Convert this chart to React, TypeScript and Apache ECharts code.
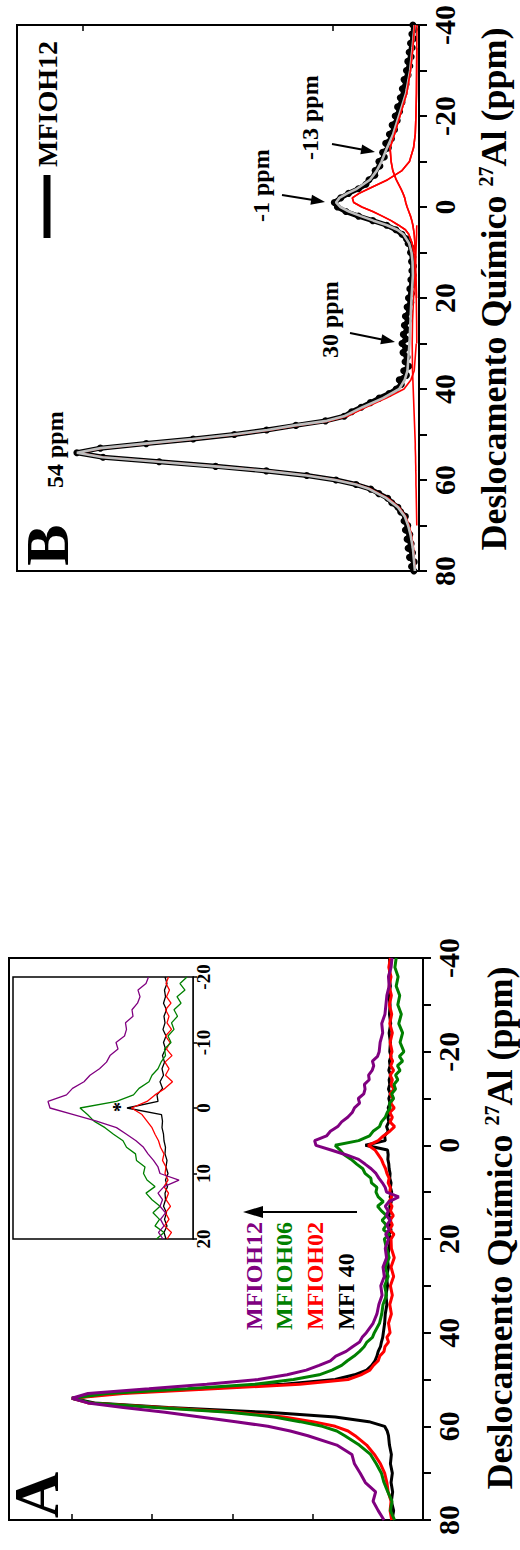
import React, { useEffect, useRef } from 'react';
import * as echarts from 'echarts';

const SERIF = '"Liberation Serif", "Times New Roman", serif';

// ---------- Panel B (MFIOH12, experimental + fit) ----------
const PPM_B = [
  80, 79, 78, 77, 76, 75, 74, 73, 72, 71,
  70, 69, 68, 67, 66, 65, 64, 63, 62, 61,
  60, 59, 58, 57, 56, 55, 54, 53, 52, 51,
  50, 49, 48, 47, 46, 45, 44, 43, 42, 41,
  40, 39, 38, 37, 36, 35, 34, 33, 32, 31,
  30, 29, 28, 27, 26, 25, 24, 23, 22, 21,
  20, 19, 18, 17, 16, 15, 14, 13, 12, 11,
  10, 9, 8, 7, 6, 5, 4, 3, 2, 1,
  0, -1, -2, -3, -4, -5, -6, -7, -8, -9,
  -10, -11, -12, -13, -14, -15, -16, -17, -18, -19,
  -20, -21, -22, -23, -24, -25, -26, -27, -28, -29,
  -30, -31, -32, -33, -34, -35, -36, -37, -38, -39,
  -40,
];
const B_EXP = [
  0.9, 1.6, 0.8, 2.2, 1.3, 2.6, 1.7, 2.9, 2.1, 3.4,
  2.7, 3.8, 3.4, 4.8, 5.6, 7.4, 8.6, 11.2, 13.6, 17.9,
  23.8, 32.4, 44.3, 59.2, 75.8, 92.3, 100, 93.1, 79.6, 65.8,
  53.7, 44.2, 35.6, 26.9, 21.4, 19.2, 16.4, 13.7, 11.1, 8.2,
  6.1, 4.6, 5.2, 3.1, 3.9, 2.4, 3.5, 2.9, 4.1, 3.3,
  4.4, 3.2, 4.0, 2.9, 3.7, 2.6, 3.4, 2.2, 2.9, 1.8,
  2.5, 1.6, 2.1, 1.3, 1.8, 1.1, 1.5, 1.0, 1.6, 1.2,
  1.9, 1.6, 2.6, 3.1, 4.4, 6.2, 8.9, 13.0, 17.2, 20.9,
  23.4, 24.3, 22.4, 20.1, 17.2, 15.0, 14.1, 12.4, 12.3, 10.9,
  11.2, 9.6, 10.1, 8.4, 9.2, 7.5, 8.1, 6.6, 7.3, 5.8,
  6.4, 5.1, 5.7, 4.4, 4.9, 3.8, 4.3, 3.2, 3.8, 2.6,
  3.1, 2.1, 2.7, 1.7, 2.3, 1.4, 1.9, 1.0, 1.5, 0.8,
  1.2,
];

const PPM_FIT = [
  80, 75, 72, 70, 68, 66, 64, 62,
  61, 60, 59, 58, 57, 56, 55, 54, 53, 52, 51, 50, 49, 48, 47, 46,
  44, 42, 40, 38, 36,
  30, 25, 20, 15, 12, 10, 8, 6, 5, 4, 3, 2, 1, 0,
  -1, -2, -3, -4, -6, -8, -10, -13, -16, -20, -25, -30, -35, -40,
];
const B_FIT = [
  0.6, 1.2, 1.9, 2.6, 3.6, 5.6, 9.0, 14.0,
  18.0, 24.0, 32.5, 44.5, 59.5, 76.0, 92.5, 100, 93, 80, 66, 54, 44, 36, 26.5, 21.5,
  16, 10, 5.2, 3.6, 2.8,
  2.2, 1.9, 1.6, 1.2, 1.3, 1.6, 2.3, 4.0, 5.8, 8.8, 12.8, 16.5, 20.0, 22.5,
  23.8, 22.8, 20.5, 17.7, 13.8, 11.8, 10.4, 8.8, 7.0, 5.3, 3.2, 2.0, 1.3, 0.7,
];
const B_C54 = [
  0.5, 1.0, 1.6, 2.3, 3.3, 5.2, 8.5, 13.5,
  17.5, 23.5, 32, 44, 59, 75.5, 92, 99.5, 92.5, 79, 65, 53, 43, 35, 25.5, 20.5,
  15, 9, 3.8, 1.8, 0.8,
  0.2, 0.1, 0, 0, 0, 0, 0, 0, 0, 0, 0, 0, 0, 0,
  0, 0, 0, 0, 0, 0, 0, 0, 0, 0, 0, 0, 0, 0,
];
const B_C30 = [
  0, 0, 0, 0.05, 0.1, 0.15, 0.2, 0.25,
  0.3, 0.3, 0.3, 0.35, 0.35, 0.4, 0.4, 0.45, 0.5, 0.5, 0.55, 0.6, 0.65, 0.7, 0.75, 0.8,
  0.9, 1.0, 1.1, 1.2, 1.3,
  1.4, 1.3, 1.0, 0.6, 0.4, 0.3, 0.2, 0.1, 0.1, 0.05, 0, 0, 0, 0,
  0, 0, 0, 0, 0, 0, 0, 0, 0, 0, 0, 0, 0, 0,
];
const B_CM1 = [
  0, 0, 0, 0, 0, 0, 0, 0,
  0, 0, 0, 0, 0, 0, 0, 0, 0, 0, 0, 0, 0, 0, 0, 0,
  0, 0, 0, 0, 0,
  0.05, 0.1, 0.2, 0.4, 0.6, 0.9, 1.4, 2.4, 3.4, 5.4, 7.6, 10.2, 13.0, 16.2,
  18.6, 19.0, 17.0, 14.2, 8.6, 4.4, 2.2, 1.0, 0.5, 0.3, 0.15, 0.1, 0.05, 0,
];
const B_CM13 = [
  0, 0, 0, 0, 0, 0, 0, 0,
  0, 0, 0, 0, 0, 0, 0, 0, 0, 0, 0, 0, 0, 0, 0, 0,
  0, 0, 0, 0, 0,
  0, 0, 0.1, 0.3, 0.4, 0.5, 0.6, 0.8, 1.0, 1.2, 1.5, 1.9, 2.4, 2.9,
  3.3, 3.6, 4.1, 4.7, 6.1, 7.1, 7.6, 7.9, 6.6, 5.0, 3.0, 1.9, 1.2, 0.7,
];
// ppm range over which each red component is drawn: [low, high]
const B_COMPONENTS = [
  { vals: B_C54, range: [30, 80] },
  { vals: B_C30, range: [4, 70] },
  { vals: B_CM1, range: [-35, 30] },
  { vals: B_CM13, range: [-40, 20] },
];

// ---------- Panel A (four samples) ----------
const PPM_A = [
  80, 78, 76, 74, 72, 70, 68, 66, 64, 62,
  61, 60, 59, 58, 57, 56, 55, 54, 53, 52, 51, 50, 49, 48, 47, 46, 45, 44, 43, 42, 41, 40,
  38, 36, 34, 32, 30, 28, 26, 24, 22,
  20, 19, 18, 17, 16, 15, 14, 13, 12, 11,
  10, 9, 8, 7, 6, 5, 4, 3, 2, 1,
  0,
  -1, -2, -3, -4, -5, -6, -7, -8, -9, -10,
  -11, -12, -13, -14, -15, -16, -17, -18, -19, -20,
  -22, -24, -26, -28, -30, -32, -34, -36, -38, -40,
];
const MFI40 = [
  0.3, -0.2, 0.5, 0.1, 0.6, 0.2, 0.8, 0.5, 1.1, 1.4,
  1.8, 2.6, 7.5, 18, 39, 70, 93, 100, 88, 60, 34, 18, 12, 8.2, 6.6, 5.6, 5.0, 4.6, 3.9, 3.6, 3.2, 3.0,
  2.6, 2.4, 1.9, 2.2, 1.7, 2.0, 1.4, 1.8, 1.2,
  0.8, 1.2, 0.6, 1.1, 0.7, 1.3, 0.9, 1.0, 0.5, 0.9,
  0.4, 0.8, 0.6, 1.0, 0.9, 1.2, 1.3, 1.6, 1.5, 1.7,
  8.6,
  2.4, 2.6, 1.5, 2.0, 1.3, 1.6, 1.1, 1.5, 0.9, 1.3,
  0.8, 1.4, 1.0, 1.2, 0.7, 1.3, 0.9, 1.1, 0.6, 1.0,
  0.8, 1.2, 0.7, 1.1, 0.9, 1.3, 0.8, 1.2, 0.9, 1.1,
];
const MFIOH02 = [
  0.4, 0.9, 0.6, 1.5, 1.9, 2.6, 3.9, 5.8, 8.2, 11.8,
  14, 18, 25, 34, 49, 72, 95, 100, 84, 56, 29, 14, 10, 7.2, 6.1, 4.6, 4.1, 2.8, 2.5, 1.4, 1.9, 0.9,
  1.4, 0.5, 1.0, 0.2, 0.8, -0.2, 0.6, -0.4, 0.5,
  0.6, -0.3, 1.1, 0.2, 0.9, -0.1, 0.8, 0.3, 1.2, 0.4,
  1.0, 0.8, 1.5, 1.2, 1.9, 2.3, 3.0, 3.6, 4.6, 5.6,
  7.7,
  4.6, 3.0, 1.0, -0.5, 0.9, 0.2, 1.0, -0.4, 0.7, 0.0,
  0.9, -0.3, 0.6, 0.2, 0.9, -0.2, 0.7, 0.1, 0.8, 0.3,
  0.9, 0.2, 1.0, 0.4, 1.1, 0.5, 1.2, 0.6, 1.3, 0.8,
];
const MFIOH06 = [
  -0.5, 0.8, 0.3, 1.6, 2.8, 3.6, 5.2, 7.0, 10.5, 15,
  17.5, 22, 29, 37, 51, 74, 94, 100, 89, 64, 43, 31, 23, 19, 16, 14.2, 12.1, 10.4, 9.0, 8.1, 6.4, 5.8,
  4.2, 3.5, 3.1, 2.0, 2.6, 1.5, 2.4, 1.2, 2.0,
  2.7, 1.2, 3.0, 2.1, 3.4, 2.0, 3.6, 4.8, 3.0, 4.6,
  5.3, 5.0, 6.7, 6.9, 8.7, 9.4, 11.3, 13.0, 15.2, 16.5,
  18.0,
  10.7, 7.3, 6.2, 4.2, 3.6, 2.4, 1.8, 0.9, 1.1, -0.2,
  0.4, -0.8, -0.3, -1.5, -0.8, -2.2, -1.4, -3.0, -2.0, -3.4,
  -2.2, -3.0, -1.8, -2.6, -1.5, -2.1, -1.0, -1.6, -0.6, -1.0,
];
const MFIOH12 = [
  2.8, 4.6, 6.2, 5.4, 8.6, 10.2, 12.0, 12.8, 17.5, 26.5,
  32, 39, 49, 60, 71, 84, 95, 100, 95, 76, 58, 42, 33, 27, 23, 19.5, 17.8, 14.6, 12.6, 10.4, 9.6, 8.3,
  6.2, 5.0, 4.4, 3.4, 3.8, 2.7, 3.1, 2.0, 2.4,
  1.4, 2.3, 1.2, 1.9, 0.9, 2.0, 1.5, 2.4, 1.2, -1.8,
  2.0, 2.4, 3.3, 4.4, 5.3, 6.8, 8.7, 10.7, 14.7, 19.3,
  24.0,
  24.4, 20.7, 19.5, 17.2, 16.0, 14.1, 12.7, 12.0, 10.4, 10.8,
  9.1, 8.7, 8.9, 7.4, 7.6, 6.5, 6.0, 6.4, 4.8, 4.3,
  4.0, 3.2, 3.5, 2.5, 2.2, 1.9, 1.2, 1.4, 0.6, 0.3,
];

const SAMPLES = ['MFI 40', 'MFIOH02', 'MFIOH06', 'MFIOH12'];
const SAMPLE_COLORS = ['#000000', '#ff0000', '#008000', '#800080'];
const SAMPLE_DATA = [MFI40, MFIOH02, MFIOH06, MFIOH12];

const PPM_TICKS_MAIN = { min: -40, max: 80, step: 10 };
const PPM_TICKS_INSET = { min: -20, max: 20, step: 10 };

function pairs(ppm: number[], vals: number[], lo = -Infinity, hi = Infinity) {
  const out: number[][] = [];
  for (let i = 0; i < ppm.length; i++) {
    if (ppm[i] >= lo && ppm[i] <= hi) out.push([vals[i], ppm[i]]);
  }
  return out;
}

function ppmAxis(gridIndex: number) {
  return {
    type: 'value',
    gridIndex,
    inverse: true,
    min: PPM_TICKS_MAIN.min,
    max: PPM_TICKS_MAIN.max,
    interval: PPM_TICKS_MAIN.step,
    position: 'right',
    axisLine: { show: true, onZero: false, lineStyle: { color: '#000', width: 2 } },
    axisTick: { show: true, inside: false, length: 8, lineStyle: { color: '#000', width: 2 } },
    axisLabel: {
      show: true,
      rotate: 90,
      margin: 10,
      fontSize: 30,
      fontWeight: 'bold',
      fontFamily: SERIF,
      color: '#000',
      formatter: (v: number) => (v % 20 === 0 ? String(v) : ''),
    },
    splitLine: { show: false },
  };
}

function intensityAxis(gridIndex: number, min: number, max: number, position: string, ticks: number[] | null) {
  return {
    type: 'value',
    gridIndex,
    inverse: true,
    min,
    max,
    position,
    axisLine: { show: false, onZero: false },
    axisLabel: { show: false },
    splitLine: { show: false },
    axisTick: ticks
      ? { show: true, inside: true, length: 6, customValues: ticks, lineStyle: { color: '#000', width: 1.5 } }
      : { show: false },
  };
}

function rtext(x: number, y: number, text: string, size: number, color: string, align = 'left') {
  return {
    type: 'text',
    x,
    y,
    rotation: Math.PI / 2,
    z: 100,
    silent: true,
    style: {
      text,
      fill: color,
      fontSize: size,
      fontWeight: 'bold',
      fontFamily: SERIF,
      align,
      verticalAlign: 'middle',
      textAlign: align,
      textVerticalAlign: 'middle',
    },
  };
}

function arrow(x1: number, y1: number, x2: number, y2: number, hl = 14, hw = 5) {
  const dx = x2 - x1;
  const dy = y2 - y1;
  const L = Math.hypot(dx, dy);
  const ux = dx / L;
  const uy = dy / L;
  const px = -uy;
  const py = ux;
  const bx = x2 - ux * hl;
  const by = y2 - uy * hl;
  return [
    { type: 'line', z: 100, silent: true, shape: { x1, y1, x2: bx + ux * 2, y2: by + uy * 2 }, style: { stroke: '#000', lineWidth: 2 } },
    {
      type: 'polygon', z: 100, silent: true,
      shape: { points: [[x2, y2], [bx + px * hw, by + py * hw], [bx - px * hw, by - py * hw]] },
      style: { fill: '#000' },
    },
  ];
}

function title(x: number, y: number) {
  return {
    type: 'text',
    x,
    y,
    rotation: Math.PI / 2,
    z: 100,
    silent: true,
    style: {
      text: '{a|Deslocamento Químico }{s|27}{a|Al (ppm)}',
      rich: {
        a: { fontSize: 36, fontWeight: 'bold', fontFamily: SERIF, fill: '#000' },
        s: { fontSize: 20, fontWeight: 'bold', fontFamily: SERIF, fill: '#000', verticalAlign: 'top' },
      },
      align: 'center',
      verticalAlign: 'middle',
      textAlign: 'center',
      textVerticalAlign: 'middle',
    },
  };
}

export default function App() {
  const ref = useRef<HTMLDivElement>(null);

  useEffect(() => {
    document.body.style.margin = '0';
    if (!ref.current) return;
    const chart = echarts.init(ref.current, undefined, { renderer: 'svg' });

    const series: any[] = [];
    // Panel B: experimental (beaded black)
    series.push({
      type: 'line', xAxisIndex: 0, yAxisIndex: 0, data: pairs(PPM_B, B_EXP),
      showSymbol: true, symbol: 'circle', symbolSize: 7, itemStyle: { color: '#000' },
      lineStyle: { color: '#000', width: 5 }, silent: true, z: 2,
    });
    // red components under the grey fit
    B_COMPONENTS.forEach((c) => {
      series.push({
        type: 'line', xAxisIndex: 0, yAxisIndex: 0, data: pairs(PPM_FIT, c.vals, c.range[0], c.range[1]),
        showSymbol: false, lineStyle: { color: '#ff0000', width: 1.6 }, silent: true, z: 3,
      });
    });
    series.push({
      type: 'line', xAxisIndex: 0, yAxisIndex: 0, data: pairs(PPM_FIT, B_FIT),
      showSymbol: false, lineStyle: { color: '#bdbdbd', width: 2.6 }, silent: true, z: 4,
    });
    // small components visible on top of the grey fit
    [B_COMPONENTS[2], B_COMPONENTS[3]].forEach((c) => {
      series.push({
        type: 'line', xAxisIndex: 0, yAxisIndex: 0, data: pairs(PPM_FIT, c.vals, -40, 10),
        showSymbol: false, lineStyle: { color: '#ff0000', width: 1.6 }, silent: true, z: 5,
      });
    });
    // Panel A main + inset
    SAMPLE_DATA.forEach((d, i) => {
      series.push({
        name: SAMPLES[i], type: 'line', xAxisIndex: 1, yAxisIndex: 1, data: pairs(PPM_A, d),
        showSymbol: false, lineStyle: { color: SAMPLE_COLORS[i], width: 3 }, silent: true, z: 2 + i,
      });
      series.push({
        name: SAMPLES[i] + ' inset', type: 'line', xAxisIndex: 2, yAxisIndex: 2,
        data: pairs(PPM_A, d, PPM_TICKS_INSET.min, PPM_TICKS_INSET.max),
        showSymbol: false, lineStyle: { color: SAMPLE_COLORS[i], width: 1.3 }, silent: true, z: 20 + i,
      });
    });

    const graphic: any[] = [
      // panel B
      rtext(47, 545, 'B', 62, '#000', 'center'),
      rtext(47, 167, 'MFIOH12', 28, '#000'),
      { type: 'rect', z: 100, silent: true, shape: { x: 43.5, y: 175, width: 7, height: 63 }, style: { fill: '#000' } },
      rtext(55, 488, '54 ppm', 24, '#000'),
      rtext(330, 358, '30 ppm', 24, '#000'),
      rtext(261, 222, '-1 ppm', 24, '#000'),
      rtext(310, 160, '-13 ppm', 24, '#000'),
      ...arrow(350, 333, 395, 342),
      ...arrow(282, 195, 325, 202),
      ...arrow(332, 144, 375, 152),
      title(494, 289),
      // panel A
      rtext(36, 1495, 'A', 64, '#000', 'center'),
      rtext(254, 1330, 'MFIOH12', 24, SAMPLE_COLORS[3]),
      rtext(284, 1330, 'MFIOH06', 24, SAMPLE_COLORS[2]),
      rtext(315, 1330, 'MFIOH02', 24, SAMPLE_COLORS[1]),
      rtext(346, 1330, 'MFI 40', 24, SAMPLE_COLORS[0]),
      ...arrow(357, 1212, 243, 1212, 20, 6),
      rtext(120, 1107, '*', 20, '#000', 'center'),
      title(500, 1228),
    ];

    chart.setOption({
      animation: false,
      backgroundColor: '#fff',
      grid: [
        { left: 17, top: 25, width: 402, height: 546, show: true, borderColor: '#000', borderWidth: 2, backgroundColor: 'transparent', containLabel: false, outerBoundsMode: 'none' },
        { left: 9, top: 958, width: 414, height: 562, show: true, borderColor: '#000', borderWidth: 2, backgroundColor: 'transparent', containLabel: false, outerBoundsMode: 'none' },
        { left: 13, top: 977, width: 180, height: 262, show: true, borderColor: '#000', borderWidth: 1.5, backgroundColor: '#fff', containLabel: false, outerBoundsMode: 'none', z: 10 },
      ],
      xAxis: [
        intensityAxis(0, -0.6, 117.6, 'top', [24.7, 98.2]),
        intensityAxis(1, -9.35, 119.6, 'bottom', [0, 25, 50, 75, 100]),
        intensityAxis(2, -4.6, 31.4, 'bottom', null),
      ],
      yAxis: [
        ppmAxis(0),
        ppmAxis(1),
        {
          type: 'value', gridIndex: 2, inverse: true,
          min: PPM_TICKS_INSET.min, max: PPM_TICKS_INSET.max, interval: PPM_TICKS_INSET.step,
          position: 'right',
          axisLine: { show: true, onZero: false, lineStyle: { color: '#000', width: 1.5 } },
          axisTick: { show: true, inside: false, length: 4, lineStyle: { color: '#000', width: 1.5 } },
          axisLabel: { show: true, rotate: 90, margin: 1, fontSize: 19, fontWeight: 'bold', fontFamily: SERIF, color: '#000' },
          splitLine: { show: false },
        },
      ],
      series,
      graphic,
    });

    return () => chart.dispose();
  }, []);

  return (
    <div
      ref={ref}
      style={{ width: 520, height: 1550, position: 'absolute', left: 0, top: 0, background: '#fff' }}
    />
  );
}
